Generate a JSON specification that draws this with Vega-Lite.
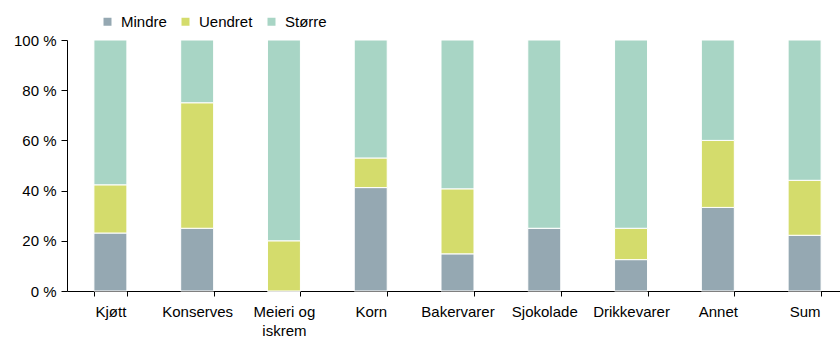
{
  "$schema": "https://vega.github.io/schema/vega-lite/v6.json",
  "autosize": "none",
  "width": 773,
  "height": 251,
  "padding": {"left": 67, "top": 40, "right": 0, "bottom": 48},
  "background": "white",
  "config": {
    "font": "Liberation Sans",
    "view": {"stroke": null}
  },
  "data": {
    "values": [
      {"kategori": "Kjøtt", "gruppe": "Mindre", "rek": 1, "andel": 23.1},
      {"kategori": "Kjøtt", "gruppe": "Uendret", "rek": 2, "andel": 19.2},
      {"kategori": "Kjøtt", "gruppe": "Større", "rek": 3, "andel": 57.7},
      {"kategori": "Konserves", "gruppe": "Mindre", "rek": 1, "andel": 25},
      {"kategori": "Konserves", "gruppe": "Uendret", "rek": 2, "andel": 50},
      {"kategori": "Konserves", "gruppe": "Større", "rek": 3, "andel": 25},
      {"kategori": "Meieri og iskrem", "gruppe": "Mindre", "rek": 1, "andel": 0},
      {"kategori": "Meieri og iskrem", "gruppe": "Uendret", "rek": 2, "andel": 20},
      {"kategori": "Meieri og iskrem", "gruppe": "Større", "rek": 3, "andel": 80},
      {"kategori": "Korn", "gruppe": "Mindre", "rek": 1, "andel": 41.2},
      {"kategori": "Korn", "gruppe": "Uendret", "rek": 2, "andel": 11.8},
      {"kategori": "Korn", "gruppe": "Større", "rek": 3, "andel": 47},
      {"kategori": "Bakervarer", "gruppe": "Mindre", "rek": 1, "andel": 14.8},
      {"kategori": "Bakervarer", "gruppe": "Uendret", "rek": 2, "andel": 25.9},
      {"kategori": "Bakervarer", "gruppe": "Større", "rek": 3, "andel": 59.3},
      {"kategori": "Sjokolade", "gruppe": "Mindre", "rek": 1, "andel": 25},
      {"kategori": "Sjokolade", "gruppe": "Uendret", "rek": 2, "andel": 0},
      {"kategori": "Sjokolade", "gruppe": "Større", "rek": 3, "andel": 75},
      {"kategori": "Drikkevarer", "gruppe": "Mindre", "rek": 1, "andel": 12.5},
      {"kategori": "Drikkevarer", "gruppe": "Uendret", "rek": 2, "andel": 12.5},
      {"kategori": "Drikkevarer", "gruppe": "Større", "rek": 3, "andel": 75},
      {"kategori": "Annet", "gruppe": "Mindre", "rek": 1, "andel": 33.3},
      {"kategori": "Annet", "gruppe": "Uendret", "rek": 2, "andel": 26.7},
      {"kategori": "Annet", "gruppe": "Større", "rek": 3, "andel": 40},
      {"kategori": "Sum", "gruppe": "Mindre", "rek": 1, "andel": 22.2},
      {"kategori": "Sum", "gruppe": "Uendret", "rek": 2, "andel": 21.9},
      {"kategori": "Sum", "gruppe": "Større", "rek": 3, "andel": 55.9}
    ]
  },
  "mark": {"type": "bar", "stroke": "white", "strokeWidth": 1},
  "encoding": {
    "x": {
      "field": "kategori",
      "type": "nominal",
      "sort": null,
      "title": null,
      "scale": {"range": [0, 781], "paddingInner": 0.62, "paddingOuter": 0.31},
      "axis": {
        "labelAngle": 0,
        "labelFontSize": 15,
        "labelColor": "#000000",
        "labelPadding": 8,
        "labelExpr": "datum.label == 'Meieri og iskrem' ? ['Meieri og', 'iskrem'] : datum.label",
        "labelLineHeight": 19,
        "tickBand": "extent",
        "tickColor": "#000000",
        "tickSize": 5,
        "domainColor": "#000000",
        "domainWidth": 1
      }
    },
    "y": {
      "field": "andel",
      "type": "quantitative",
      "stack": "zero",
      "title": null,
      "scale": {"domain": [0, 100], "nice": false},
      "axis": {
        "values": [0, 20, 40, 60, 80, 100],
        "labelExpr": "datum.value + ' %'",
        "labelFontSize": 15,
        "labelColor": "#000000",
        "labelPadding": 5,
        "grid": false,
        "tickColor": "#000000",
        "tickSize": 6,
        "domainColor": "#000000",
        "domainWidth": 1
      }
    },
    "color": {
      "field": "gruppe",
      "type": "nominal",
      "scale": {
        "domain": ["Mindre", "Uendret", "Større"],
        "range": ["#95a8b2", "#d4dc6c", "#a8d5c5"]
      },
      "legend": {
        "title": null,
        "orient": "none",
        "legendX": 33,
        "legendY": -26,
        "direction": "horizontal",
        "symbolType": "square",
        "symbolSize": 64,
        "symbolStrokeWidth": 0,
        "labelFontSize": 15,
        "labelColor": "#000000",
        "labelOffset": 6,
        "columnPadding": 11
      }
    },
    "order": {"field": "rek", "type": "quantitative"}
  }
}
